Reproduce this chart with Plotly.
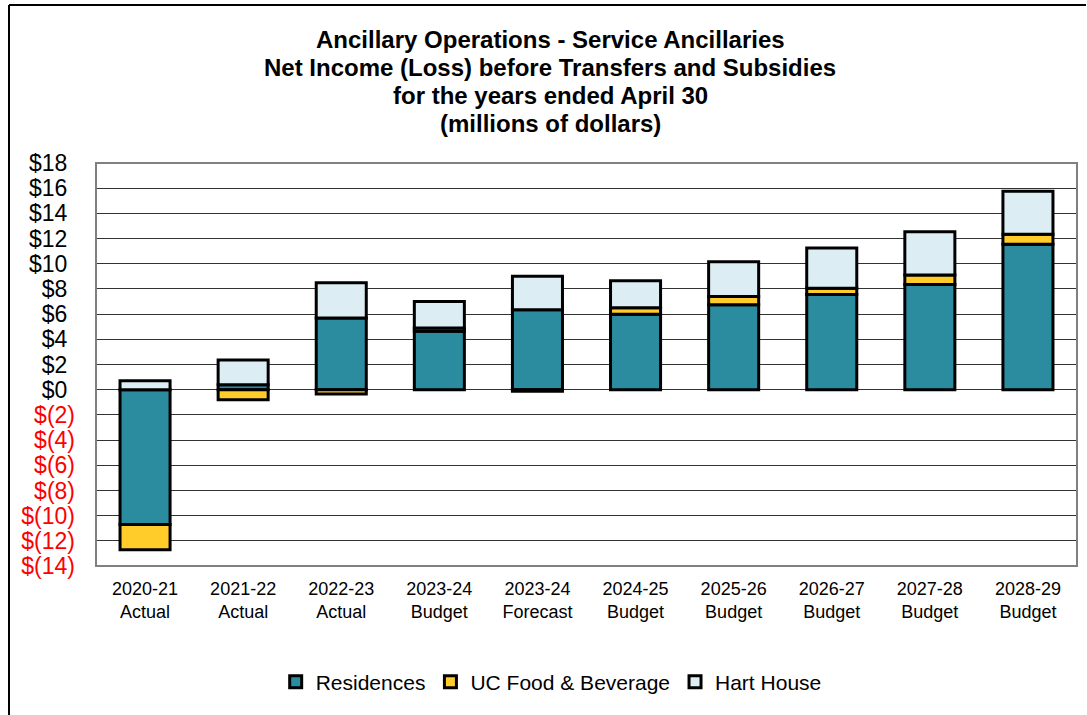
import plotly.graph_objects as go

categories = ["2020-21<br>Actual", "2021-22<br>Actual", "2022-23<br>Actual", "2023-24<br>Budget",
              "2023-24<br>Forecast", "2024-25<br>Budget", "2025-26<br>Budget", "2026-27<br>Budget",
              "2027-28<br>Budget", "2028-29<br>Budget"]
residences = [-10.7, 0.4, 5.7, 4.65, 6.35, 6.0, 6.75, 7.55, 8.35, 11.55]
uc_food = [-2.0, -0.8, -0.35, 0.25, -0.13, 0.5, 0.65, 0.5, 0.75, 0.8]
hart_house = [0.7, 1.95, 2.8, 2.1, 2.65, 2.15, 2.75, 3.2, 3.45, 3.4]
tick_values = list(range(-14, 19, 2))
tick_labels = [("<span style='color:#FF0000'>$(%d)</span>" % -v) if v < 0
               else "$%d<span style='color:rgba(0,0,0,0)'>)</span>" % v for v in tick_values]
title_lines = ["Ancillary Operations - Service Ancillaries",
               "Net Income (Loss) before Transfers and Subsidies",
               "for the years ended April 30",
               "(millions of dollars)"]

series = [("Residences", residences, "#2B8CA0"),
          ("UC Food & Beverage", uc_food, "#FFCC29"),
          ("Hart House", hart_house, "#DCEEF4")]

fig = go.Figure()
for name, vals, col in series:
    fig.add_trace(go.Bar(x=categories, y=vals, name=name,
                         marker=dict(color=col, line=dict(color="#000000", width=3))))

W, H = 1087, 715
L, R, T, B = 96, 10, 163, 149
pw, ph = W - L - R, H - T - B

def px_x(p):
    return (p - L) / pw

def px_y(p):
    return (H - B - p) / ph

fig.update_layout(
    width=W, height=H, barmode="relative", bargap=0.49,
    margin=dict(l=L, r=R, t=T, b=B),
    paper_bgcolor="white", plot_bgcolor="white",
    font=dict(family="Liberation Sans, Arial, sans-serif", color="#000000"),
    legend=dict(orientation="h", x=0.464, xanchor="center", y=px_y(682), yanchor="middle",
                font=dict(size=21), traceorder="normal", itemwidth=30),
    showlegend=True,
)
for i, line in enumerate(title_lines):
    fig.add_annotation(text="<b>%s</b>" % line, xref="paper", yref="paper",
                       x=px_x(550), y=px_y(40 + i * 27.7), xanchor="center", yanchor="middle",
                       showarrow=False, font=dict(size=24))

fig.update_xaxes(showgrid=False, showline=False, ticks="", tickfont=dict(size=18),
                 ticklabelstandoff=10)
fig.update_yaxes(range=[-14, 18], tickvals=tick_values, ticktext=tick_labels,
                 tickfont=dict(size=23), showgrid=True, gridcolor="#333333", gridwidth=1,
                 zeroline=False, showline=False, ticks="", ticklen=0, ticklabelstandoff=20)

# plot area border
fig.add_shape(type="rect", xref="paper", yref="paper", x0=0, y0=0, x1=1, y1=1,
              line=dict(color="#808080", width=2), layer="above")
# outer frame (top and left)
fig.add_shape(type="line", xref="paper", yref="paper", x0=px_x(9), x1=px_x(1086), y0=px_y(5), y1=px_y(5),
              line=dict(color="#000000", width=2))
fig.add_shape(type="line", xref="paper", yref="paper", x0=px_x(9), x1=px_x(9), y0=px_y(5), y1=px_y(716),
              line=dict(color="#000000", width=2))

fig.write_html("out.html")
